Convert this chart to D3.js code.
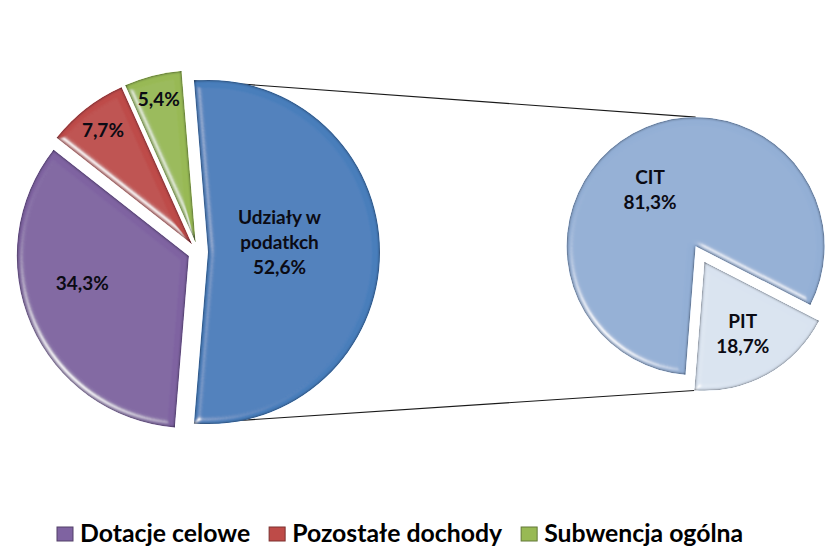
<!DOCTYPE html>
<html>
<head>
<meta charset="utf-8">
<script src="https://cdn.jsdelivr.net/npm/d3@7/dist/d3.min.js"></script>
<style>
  body { margin: 0; background: #fff; }
  text { font-family: Lato, "Noto Sans", sans-serif; font-weight: bold; }
</style>
</head>
<body>
<div id="chart"></div>
<script>
// main pie
var mainCats = ["Udziały w podatkch", "Dotacje celowe", "Pozostałe dochody", "Subwencja ogólna"];
var mainValues = [52.6, 34.3, 7.7, 5.4];
var mainColors = ["#4A7EBB", "#7F63A1", "#BE4B48", "#98B954"];

// secondary pie (split of "Udziały w podatkch")
var subCats = ["CIT", "PIT"];
var subValues = [81.3, 18.7];
var subColors = ["#93AFD5", "#D9E3F0"];

var legendIdx = [1, 2, 3];

var width = 832, height = 554;
var svg = d3.select("#chart").append("svg")
    .attr("width", width)
    .attr("height", height);

// bevel-ish look similar to the office pie
var defs = svg.append("defs");
var f = defs.append("filter").attr("id", "bevel")
    .attr("x", "-5%").attr("y", "-5%").attr("width", "110%").attr("height", "110%");
f.append("feGaussianBlur").attr("in", "SourceAlpha").attr("stdDeviation", 3).attr("result", "blur");
var spec = f.append("feSpecularLighting").attr("in", "blur")
    .attr("surfaceScale", 4).attr("specularConstant", 0.8).attr("specularExponent", 30)
    .attr("lighting-color", "#ffffff").attr("result", "spec");
spec.append("feDistantLight").attr("azimuth", 135).attr("elevation", 35);
f.append("feComposite").attr("in", "spec").attr("in2", "SourceAlpha").attr("operator", "in").attr("result", "specIn");
f.append("feGaussianBlur").attr("in", "SourceAlpha").attr("stdDeviation", 1.8).attr("result", "blur2");
f.append("feComposite").attr("in", "SourceAlpha").attr("in2", "blur2").attr("operator", "arithmetic")
    .attr("k1", 0).attr("k2", 1.8).attr("k3", -1.8).attr("k4", 0).attr("result", "rim");
f.append("feFlood").attr("flood-color", "#10182a").attr("flood-opacity", 0.8).attr("result", "dark");
f.append("feComposite").attr("in", "dark").attr("in2", "rim").attr("operator", "in").attr("result", "rimShade");
var m = f.append("feMerge");
m.append("feMergeNode").attr("in", "SourceGraphic");
m.append("feMergeNode").attr("in", "specIn");
m.append("feMergeNode").attr("in", "rimShade");

var fmt = function (v) { return v.toFixed(1).replace(".", ",") + "%"; };

// ---- main pie
var L = { cx: 198, cy: 252, r: 172, explode: 10 };
var mainTotal = d3.sum(mainValues);
// split slice is centred on the right hand side
var a0 = Math.PI / 2 - Math.PI * mainValues[0] / mainTotal;
var mainPie = d3.pie().sort(null).startAngle(a0).endAngle(a0 + 2 * Math.PI)(mainValues);

// ---- secondary pie
var R = { cx: 700, cy: 254, r: 129, explode: 9 };
var b0 = 184.5 * Math.PI / 180;
var subPie = d3.pie().sort(null).startAngle(b0).endAngle(b0 + 2 * Math.PI)(subValues);

function offset(d, dist) {
  var mid = (d.startAngle + d.endAngle) / 2;
  return [dist * Math.sin(mid), -dist * Math.cos(mid)];
}

// connector lines (drawn first so the slices cover them)
var blue = mainPie[0];
var bo = offset(blue, L.explode);
var bcx = L.cx + bo[0], bcy = L.cy + bo[1];
var cit = subPie[0], pit = subPie[1];
var co = offset(cit, R.explode), po = offset(pit, R.explode);
var topEnd = [R.cx + co[0], R.cy + co[1] - R.r];
var botEnd = [R.cx + po[0] + R.r * Math.sin(pit.endAngle), R.cy + po[1] - R.r * Math.cos(pit.endAngle)];
var lines = [
  [[bcx + L.r * Math.sin(blue.startAngle), bcy - L.r * Math.cos(blue.startAngle)], topEnd],
  [[bcx + L.r * Math.sin(blue.endAngle), bcy - L.r * Math.cos(blue.endAngle)], botEnd]
];
svg.selectAll("line.conn").data(lines).enter().append("line")
    .attr("class", "conn")
    .attr("x1", function (d) { return d[0][0]; })
    .attr("y1", function (d) { return d[0][1]; })
    .attr("x2", function (d) { return d[1][0]; })
    .attr("y2", function (d) { return d[1][1]; })
    .style("stroke", "#1a1a1a")
    .style("stroke-width", 1.1);

var mainArc = d3.arc().innerRadius(0).outerRadius(L.r);
var subArc = d3.arc().innerRadius(0).outerRadius(R.r);

svg.append("g").selectAll("path").data(mainPie).enter().append("path")
    .attr("transform", function (d) {
      var o = offset(d, L.explode);
      return "translate(" + (L.cx + o[0]) + "," + (L.cy + o[1]) + ")";
    })
    .attr("d", mainArc)
    .style("fill", function (d, i) { return mainColors[i]; })
    .attr("filter", "url(#bevel)");

svg.append("g").selectAll("path").data(subPie).enter().append("path")
    .attr("transform", function (d) {
      var o = offset(d, R.explode);
      return "translate(" + (R.cx + o[0]) + "," + (R.cy + o[1]) + ")";
    })
    .attr("d", subArc)
    .style("fill", function (d, i) { return subColors[i]; })
    .attr("filter", "url(#bevel)");

// data labels: [radius fraction, angle tweak in degrees]
var mainLabelPos = [[0.42, -8], [0.64, 9], [0.84, 0], [0.86, 0]];
var mainLabelLines = [["Udziały w", "podatkch"], [], [], []];
var subLabelPos = [[0.56, -10], [0.63, 1]];

function drawLabel(cx, cy, r, d, pos, lines) {
  var mid = (d.startAngle + d.endAngle) / 2 + pos[1] * Math.PI / 180;
  var x = cx + r * pos[0] * Math.sin(mid);
  var y = cy - r * pos[0] * Math.cos(mid);
  var lh = 25;
  var y0 = y - (lines.length - 1) * lh / 2;
  var t = svg.append("text")
      .attr("text-anchor", "middle")
      .style("font-size", "19px")
      .style("fill", "#0b0b14");
  lines.forEach(function (s, k) {
    t.append("tspan").attr("x", x).attr("y", y0 + k * lh).attr("dy", "0.35em").text(s);
  });
}

mainPie.forEach(function (d, i) {
  var o = offset(d, L.explode);
  drawLabel(L.cx + o[0], L.cy + o[1], L.r, d, mainLabelPos[i], mainLabelLines[i].concat([fmt(mainValues[i])]));
});
subPie.forEach(function (d, i) {
  var o = offset(d, R.explode);
  drawLabel(R.cx + o[0], R.cy + o[1], R.r, d, subLabelPos[i], [subCats[i], fmt(subValues[i])]);
});

// legend
var lg = svg.append("g").attr("transform", "translate(57,527)");
var lx = 0;
legendIdx.forEach(function (i) {
  var g = lg.append("g").attr("transform", "translate(" + lx + ",0)");
  g.append("rect").attr("width", 16).attr("height", 14)
      .style("fill", mainColors[i])
      .style("stroke", d3.color(mainColors[i]).darker(1.2))
      .style("stroke-width", 1);
  var t = g.append("text")
      .attr("x", 23).attr("y", 14.5)
      .style("font-size", "24.8px")
      .style("fill", "#000")
      .text(mainCats[i]);
  lx += 23 + t.node().getComputedTextLength() + 19;
});
</script>
</body>
</html>
